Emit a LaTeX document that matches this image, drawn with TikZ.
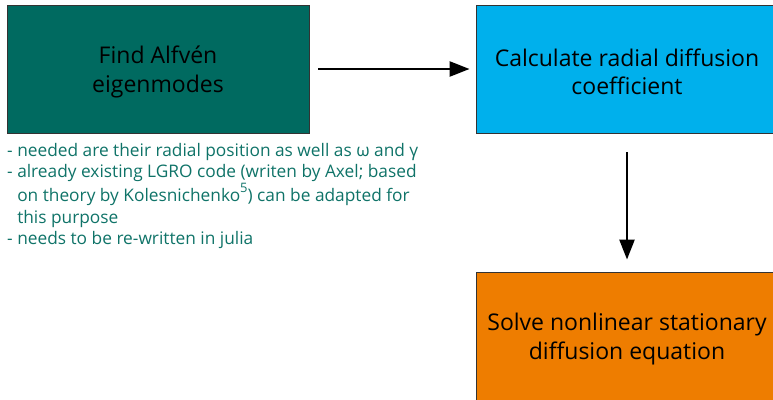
\documentclass[tikz,border=0pt]{standalone}
\usepackage{fontspec}
\setmainfont{Open Sans}
\usetikzlibrary{arrows.meta}
\definecolor{tealbox}{RGB}{0,106,96}
\definecolor{cyanbox}{RGB}{0,176,236}
\definecolor{orangebox}{RGB}{238,125,0}
\definecolor{notetext}{RGB}{15,115,104}
\begin{document}
\begin{tikzpicture}[x=1pt,y=-1pt,
  box/.style={draw=black!80,line width=0.9pt,inner sep=0pt,minimum width=302pt},
  boxtext/.style={inner sep=0pt,align=center,font=\fontsize{23}{28.5}\selectfont,text=black},
  conn/.style={line width=2.5pt,-{Triangle[length=20pt,width=15pt]}}]
\useasboundingbox (0,0) rectangle (773,399);
\node[box,fill=tealbox,minimum height=128pt] (find) at (158,69) {};
\node[box,fill=cyanbox,minimum height=128pt] (calc) at (627,69) {};
\node[box,fill=orangebox,minimum height=132pt] (solve) at (627,338) {};
\node[boxtext] (findt) at ([yshift=-3pt]find.center) {Find Alfvén\\eigenmodes};
\node[boxtext] (calct) at ([yshift=-3pt]calc.center) {Calculate radial diffusion\\coefficient};
\node[boxtext] (solvet) at ([yshift=-1pt]solve.center) {Solve nonlinear stationary\\diffusion equation};
\node[anchor=north west,inner sep=0pt,align=left,text=notetext,
  font=\fontsize{17.3}{21.5}\selectfont] (notes) at (7,143)
  {- needed are their radial position as well as ω and γ\\
   - already existing LGRO code (writen by Axel; based\\
   \hphantom{- }on theory by Kolesnichenko\raisebox{0.55em}{\fontsize{13}{13}\selectfont 5}) can be adapted for\\
   \hphantom{- }this purpose\\
   - needs to be re-written in julia};
\draw[conn] ([xshift=9pt]find.east) -- ([xshift=-6pt]calc.west);
\draw[conn] ([yshift=-19pt]calc.south) -- ([yshift=12pt]solve.north);
\end{tikzpicture}
\end{document}
